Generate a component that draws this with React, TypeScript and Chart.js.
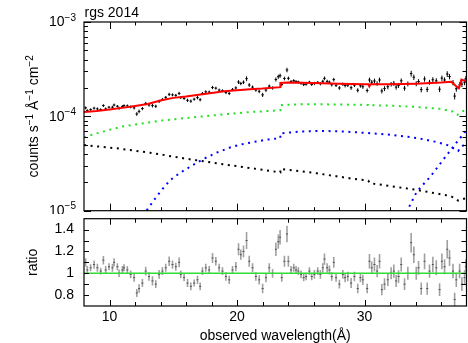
import React, { useEffect, useRef } from 'react';
import { Chart, registerables } from 'chart.js';
Chart.register(...registerables);

const FONT = "'Liberation Sans', Arial, Helvetica, sans-serif";
Chart.defaults.font.family = FONT;
Chart.defaults.color = '#000';

// ---------- data points (observed wavelength, Å) ----------
const wavelength = [
  8.13, 8.26, 8.52, 8.79, 9.05, 9.31, 9.52, 9.70, 9.96, 10.23,
  10.36, 10.62, 10.75, 11.01, 11.14, 11.40, 11.66, 11.93, 12.14, 12.32,
  12.58, 12.84, 13.10, 13.37, 13.63, 13.89, 14.15, 14.41, 14.68, 14.94,
  15.20, 15.46, 15.59, 15.85, 16.12, 16.38, 16.64, 16.90, 17.11, 17.29,
  17.55, 17.82, 18.08, 18.34, 18.60, 18.86, 19.13, 19.39, 19.65, 19.91,
  20.12, 20.30, 20.51, 20.75, 20.96, 21.22, 21.48, 21.74, 22.01, 22.27,
  22.53, 22.79, 23.05, 23.24, 23.38, 23.51, 23.72, 23.92, 24.03, 24.24,
  24.45, 24.63, 24.81, 25.02, 25.23, 25.42, 25.68, 25.86, 26.07, 26.33,
  26.54, 26.73, 26.86, 27.07, 27.25, 27.43, 27.59, 27.77, 28.03, 28.30,
  28.48, 28.69, 28.95, 29.21, 29.47, 29.68, 29.87, 30.21, 30.39, 30.57,
  30.78, 30.99, 31.18, 31.36, 31.57, 31.83, 32.09, 32.30, 32.48, 32.67,
  32.88, 33.14, 33.40, 33.66, 33.87, 34.06, 34.24, 34.45, 34.71, 34.92,
  35.10, 35.36, 35.63, 35.89, 36.07, 36.28, 36.49, 36.67, 36.94, 37.07,
  37.20, 37.46, 37.64, 37.85, 37.95,
];

// counts s^-1 Å^-1 cm^-2
const flux = [
  1.23e-4, 1.15e-4, 1.18e-4, 1.22e-4, 1.20e-4, 1.18e-4, 1.30e-4, 1.20e-4, 1.25e-4, 1.25e-4,
  1.32e-4, 1.28e-4, 1.22e-4, 1.27e-4, 1.30e-4, 1.29e-4, 1.26e-4, 1.23e-4, 1.06e-4, 1.13e-4,
  1.21e-4, 1.37e-4, 1.32e-4, 1.30e-4, 1.28e-4, 1.44e-4, 1.51e-4, 1.59e-4, 1.71e-4, 1.69e-4,
  1.67e-4, 1.75e-4, 1.58e-4, 1.55e-4, 1.48e-4, 1.45e-4, 1.52e-4, 1.58e-4, 1.50e-4, 1.75e-4,
  1.82e-4, 1.81e-4, 2.02e-4, 1.99e-4, 1.90e-4, 1.87e-4, 1.79e-4, 1.75e-4, 1.93e-4, 2.00e-4,
  2.31e-4, 2.23e-4, 2.30e-4, 2.51e-4, 2.15e-4, 2.04e-4, 1.90e-4, 1.84e-4, 1.69e-4, 1.90e-4,
  2.09e-4, 2.00e-4, 2.46e-4, 2.63e-4, 2.70e-4, 2.17e-4, 2.52e-4, 3.10e-4, 2.53e-4, 2.34e-4,
  2.39e-4, 2.34e-4, 2.31e-4, 2.24e-4, 2.17e-4, 2.19e-4, 2.30e-4, 2.18e-4, 2.23e-4, 2.29e-4,
  2.22e-4, 2.35e-4, 2.53e-4, 2.35e-4, 2.30e-4, 2.16e-4, 2.45e-4, 2.13e-4, 2.00e-4, 2.19e-4,
  2.12e-4, 2.14e-4, 2.01e-4, 2.14e-4, 1.89e-4, 2.11e-4, 2.06e-4, 1.88e-4, 2.43e-4, 2.30e-4,
  2.37e-4, 2.23e-4, 2.43e-4, 1.86e-4, 1.97e-4, 2.06e-4, 2.19e-4, 2.24e-4, 2.04e-4, 2.13e-4,
  2.38e-4, 1.99e-4, 2.21e-4, 2.84e-4, 2.60e-4, 2.22e-4, 2.34e-4, 1.92e-4, 2.49e-4, 1.93e-4,
  2.30e-4, 2.44e-4, 2.38e-4, 1.94e-4, 2.54e-4, 2.43e-4, 2.81e-4, 2.64e-4, 2.28e-4, 1.64e-4,
  1.96e-4, 2.16e-4, 2.20e-4, 2.30e-4, 2.51e-4,
];

const ratio = [
  1.10, 1.03, 1.05, 1.08, 1.05, 1.02, 1.12, 1.03, 1.06, 1.05,
  1.10, 1.06, 1.00, 1.03, 1.05, 1.03, 0.99, 0.96, 0.82, 0.86,
  0.91, 1.02, 0.97, 0.93, 0.90, 0.99, 1.02, 1.05, 1.11, 1.08,
  1.06, 1.10, 0.99, 0.96, 0.91, 0.88, 0.91, 0.94, 0.88, 1.02,
  1.05, 1.03, 1.14, 1.11, 1.05, 1.02, 0.97, 0.94, 1.03, 1.06,
  1.22, 1.17, 1.20, 1.30, 1.11, 1.05, 0.97, 0.94, 0.86, 0.96,
  1.05, 1.00, 1.22, 1.29, 1.33, 0.96, 1.11, 1.36, 1.11, 1.03,
  1.05, 1.03, 1.02, 0.99, 0.96, 0.97, 1.02, 0.97, 0.99, 1.02,
  0.99, 1.05, 1.13, 1.05, 1.03, 0.97, 1.10, 0.96, 0.90, 0.99,
  0.96, 0.97, 0.91, 0.97, 0.86, 0.96, 0.94, 0.86, 1.11, 1.05,
  1.08, 1.02, 1.11, 0.85, 0.90, 0.94, 1.00, 1.02, 0.93, 0.97,
  1.08, 0.90, 1.00, 1.28, 1.17, 1.00, 1.05, 0.86, 1.11, 0.86,
  1.02, 1.08, 1.05, 0.85, 1.11, 1.06, 1.22, 1.14, 1.02, 0.76,
  0.94, 1.02, 0.90, 0.96, 1.06,
];

// fractional 1-sigma errors
const relErr = [
  0.035, 0.035, 0.03, 0.035, 0.035, 0.03, 0.035, 0.035, 0.03, 0.035,
  0.035, 0.03, 0.035, 0.035, 0.03, 0.035, 0.035, 0.04, 0.045, 0.045,
  0.04, 0.04, 0.04, 0.045, 0.04, 0.04, 0.035, 0.035, 0.04, 0.035,
  0.035, 0.04, 0.035, 0.035, 0.04, 0.04, 0.035, 0.04, 0.04, 0.035,
  0.035, 0.035, 0.04, 0.035, 0.035, 0.035, 0.04, 0.04, 0.035, 0.04,
  0.045, 0.04, 0.045, 0.06, 0.045, 0.04, 0.04, 0.045, 0.05, 0.045,
  0.04, 0.04, 0.05, 0.05, 0.05, 0.04, 0.045, 0.055, 0.045, 0.035,
  0.035, 0.035, 0.035, 0.035, 0.035, 0.035, 0.035, 0.035, 0.04, 0.035,
  0.04, 0.04, 0.045, 0.04, 0.04, 0.04, 0.045, 0.04, 0.045, 0.04,
  0.045, 0.045, 0.05, 0.045, 0.05, 0.045, 0.05, 0.05, 0.06, 0.055,
  0.06, 0.055, 0.06, 0.06, 0.06, 0.06, 0.055, 0.06, 0.06, 0.06,
  0.06, 0.06, 0.06, 0.07, 0.065, 0.06, 0.06, 0.065, 0.065, 0.065,
  0.06, 0.065, 0.065, 0.07, 0.065, 0.065, 0.07, 0.065, 0.065, 0.08,
  0.07, 0.065, 0.07, 0.07, 0.065,
];
const binHalfWidth = 0.1;

// ---------- model curves ----------
const modelWl = [8.0, 9.0, 10.0, 11.0, 12.0, 13.0, 14.0, 15.0, 16.0, 17.0, 18.0, 19.0, 20.0, 21.0, 22.0, 23.4, 23.4, 24.0, 26.0, 28.0, 30.0, 30.3, 30.38, 30.46, 32.0, 34.0, 36.0, 36.8, 37.2, 37.4, 37.6, 38.0];
const modelFlux = [1.11e-4, 1.14e-4, 1.18e-4, 1.23e-4, 1.29e-4, 1.35e-4, 1.47e-4, 1.57e-4, 1.62e-4, 1.69e-4, 1.77e-4, 1.84e-4, 1.89e-4, 1.94e-4, 1.97e-4, 2.04e-4, 2.26e-4, 2.28e-4, 2.25e-4, 2.22e-4, 2.19e-4, 2.19e-4, 2.08e-4, 2.19e-4, 2.19e-4, 2.22e-4, 2.28e-4, 2.32e-4, 2.08e-4, 1.98e-4, 2.46e-4, 2.35e-4];

const greenWl = [8.0, 9.0, 10.0, 11.0, 12.0, 13.0, 14.0, 15.0, 16.0, 17.0, 18.0, 19.0, 20.0, 21.0, 22.0, 23.4, 23.4, 25.0, 27.0, 29.0, 30.3, 30.4, 30.5, 32.0, 34.0, 36.0, 37.0, 37.3, 37.6, 38.0];
const greenFlux = [6.0e-5, 6.6e-5, 7.2e-5, 7.8e-5, 8.2e-5, 8.6e-5, 9.0e-5, 9.3e-5, 9.6e-5, 9.9e-5, 1.02e-4, 1.05e-4, 1.08e-4, 1.11e-4, 1.13e-4, 1.16e-4, 1.32e-4, 1.34e-4, 1.34e-4, 1.33e-4, 1.32e-4, 1.28e-4, 1.31e-4, 1.30e-4, 1.26e-4, 1.20e-4, 1.12e-4, 1.04e-4, 1.12e-4, 1.17e-4];

const blackWl = [8.0, 10.57, 13.18, 15.8, 18.4, 21.04, 23.4, 23.4, 26.28, 28.9, 30.3, 30.4, 31.5, 34.1, 36.75, 37.35, 37.8, 38.0];
const blackFlux = [4.96e-5, 4.58e-5, 4.12e-5, 3.59e-5, 3.18e-5, 2.83e-5, 2.55e-5, 2.78e-5, 2.49e-5, 2.2e-5, 2.08e-5, 1.96e-5, 1.87e-5, 1.66e-5, 1.43e-5, 1.28e-5, 1.34e-5, 1.36e-5];

const blue1Wl = [12.5, 12.9, 13.5, 14.0, 14.76, 15.5, 16.33, 17.3, 18.4, 19.5, 20.5, 21.8, 22.5, 23.4, 23.4, 25.0, 26.3, 28.0, 29.9, 32.0, 34.1, 35.5, 36.5, 37.1, 37.35, 37.6, 38.0];
const blue1Flux = [7.5e-6, 1.0e-5, 1.3e-5, 1.6e-5, 2.11e-5, 2.5e-5, 2.93e-5, 3.5e-5, 4.12e-5, 4.7e-5, 5.1e-5, 5.5e-5, 5.7e-5, 5.87e-5, 6.6e-5, 6.9e-5, 7.0e-5, 6.95e-5, 6.7e-5, 6.4e-5, 5.9e-5, 5.4e-5, 4.96e-5, 4.5e-5, 4.3e-5, 4.8e-5, 5.1e-5];

const blue2Wl = [33.0, 33.35, 34.1, 35.2, 36.2, 37.0, 37.8, 38.0];
const blue2Flux = [7e-6, 1.0e-5, 1.59e-5, 2.33e-5, 3.51e-5, 4.85e-5, 6.6e-5, 7.2e-5];

// ---------- axes / ticks ----------
const xMin = 8, xMax = 38;
const xMajorTicks = [10, 20, 30];
const xMinorTicks = [12, 14, 16, 18, 22, 24, 26, 28, 32, 34, 36];
const logMajorTicks = [1e-5, 1e-4, 1e-3];
const logTickExponents = ['−5', '−4', '−3'];
const logMinorTicks = [2e-5, 3e-5, 4e-5, 5e-5, 6e-5, 7e-5, 8e-5, 9e-5, 2e-4, 3e-4, 4e-4, 5e-4, 6e-4, 7e-4, 8e-4, 9e-4];
const ratioMin = 0.7, ratioMax = 1.5;
const ratioLabelTicks = [0.8, 1, 1.2, 1.4];
const ratioMinorTicks = [0.9, 1.1, 1.3];

const titleText = 'rgs 2014';
const xTitle = 'observed wavelength(Å)';
const ratioTitle = 'ratio';
const yTitleParts: [string, boolean][] = [['counts s', false], ['−1', true], [' Å', false], ['−1', true], [' cm', false], ['−2', true]];

const pts = (xs: number[], ys: number[]) => xs.map((x, i) => ({ x, y: ys[i] }));

function drawTicks(chart: any, xMaj: number[], xMinr: number[], yMaj: number[], yMinr: number[], L: { xM: number; xm: number; yM: number; ym: number }) {
  const { ctx, chartArea: a, scales } = chart;
  const xs = scales.x, ys = scales.y;
  ctx.save();
  ctx.strokeStyle = '#000';
  ctx.lineWidth = 1;
  ctx.beginPath();
  const xt = (v: number, len: number) => {
    const p = Math.round(xs.getPixelForValue(v)) + 0.5;
    ctx.moveTo(p, a.bottom); ctx.lineTo(p, a.bottom - len);
    ctx.moveTo(p, a.top); ctx.lineTo(p, a.top + len);
  };
  const yt = (v: number, len: number) => {
    const p = Math.round(ys.getPixelForValue(v)) + 0.5;
    ctx.moveTo(a.left, p); ctx.lineTo(a.left + len, p);
    ctx.moveTo(a.right, p); ctx.lineTo(a.right - len, p);
  };
  xMaj.forEach(v => xt(v, L.xM));
  xMinr.forEach(v => xt(v, L.xm));
  yMaj.forEach(v => yt(v, L.yM));
  yMinr.forEach(v => yt(v, L.ym));
  ctx.stroke();
  ctx.lineWidth = 1.2;
  ctx.strokeRect(a.left, a.top, a.right - a.left, a.bottom - a.top);
  ctx.restore();
}

const topDecor = {
  id: 'topDecor',
  beforeDatasetsDraw(chart: any) {
    const { ctx, chartArea: a, scales: { x, y } } = chart;
    ctx.save();
    ctx.beginPath();
    ctx.rect(a.left, a.top, a.right - a.left, a.bottom - a.top);
    ctx.clip();
    ctx.strokeStyle = '#000';
    ctx.lineWidth = 1;
    ctx.beginPath();
    for (let i = 0; i < wavelength.length; i++) {
      const px = x.getPixelForValue(wavelength[i]);
      const py = y.getPixelForValue(flux[i]);
      ctx.moveTo(x.getPixelForValue(wavelength[i] - binHalfWidth), py);
      ctx.lineTo(x.getPixelForValue(wavelength[i] + binHalfWidth), py);
      ctx.moveTo(px, y.getPixelForValue(flux[i] * (1 - relErr[i])));
      ctx.lineTo(px, y.getPixelForValue(flux[i] * (1 + relErr[i])));
    }
    ctx.stroke();
    ctx.restore();
  },
  afterDraw(chart: any) {
    const { ctx, chartArea: a, scales: { y } } = chart;
    drawTicks(chart, xMajorTicks, xMinorTicks, logMajorTicks, logMinorTicks, { xM: 7, xm: 3.5, yM: 7, ym: 4 });
    ctx.save();
    ctx.fillStyle = '#000';
    // log tick labels 10^n
    logMajorTicks.forEach((v, i) => {
      const py = y.getPixelForValue(v);
      ctx.font = `10px ${FONT}`;
      const sw = ctx.measureText(logTickExponents[i]).width;
      const right = a.left - 8;
      ctx.textAlign = 'left';
      ctx.textBaseline = 'middle';
      ctx.fillText(logTickExponents[i], right - sw, py - 4);
      ctx.font = `14px ${FONT}`;
      ctx.textAlign = 'right';
      ctx.fillText('10', right - sw, py + 0.5);
    });
    // title
    ctx.font = `14px ${FONT}`;
    ctx.textAlign = 'left';
    ctx.textBaseline = 'alphabetic';
    ctx.fillText(titleText, a.left + 0.5, 16.7);
    // y title (rotated)
    let w = 0;
    yTitleParts.forEach(([t, sup]) => {
      ctx.font = `${sup ? 10 : 14}px ${FONT}`;
      w += ctx.measureText(t).width;
    });
    ctx.translate(38.3, (a.top + a.bottom) / 2);
    ctx.rotate(-Math.PI / 2);
    let cx = -w / 2;
    yTitleParts.forEach(([t, sup]) => {
      ctx.font = `${sup ? 10 : 14}px ${FONT}`;
      ctx.fillText(t, cx, sup ? -5.5 : 0);
      cx += ctx.measureText(t).width;
    });
    ctx.restore();
  },
};

const bottomDecor = {
  id: 'bottomDecor',
  beforeDatasetsDraw(chart: any) {
    const { ctx, chartArea: a, scales: { x, y } } = chart;
    ctx.save();
    ctx.beginPath();
    ctx.rect(a.left, a.top, a.right - a.left, a.bottom - a.top);
    ctx.clip();
    ctx.strokeStyle = '#a0a0a0';
    ctx.lineWidth = 1.6;
    ctx.beginPath();
    for (let i = 0; i < wavelength.length; i++) {
      const px = x.getPixelForValue(wavelength[i]);
      const e = ratio[i] * relErr[i];
      ctx.moveTo(px, y.getPixelForValue(ratio[i] - e));
      ctx.lineTo(px, y.getPixelForValue(ratio[i] + e));
    }
    ctx.stroke();
    ctx.strokeStyle = '#505050';
    ctx.lineWidth = 1;
    ctx.beginPath();
    for (let i = 0; i < wavelength.length; i++) {
      const py = y.getPixelForValue(ratio[i]);
      ctx.moveTo(x.getPixelForValue(wavelength[i] - 0.08), py);
      ctx.lineTo(x.getPixelForValue(wavelength[i] + 0.08), py);
    }
    ctx.stroke();
    ctx.restore();
  },
  afterDraw(chart: any) {
    drawTicks(chart, xMajorTicks, xMinorTicks, ratioLabelTicks, ratioMinorTicks, { xM: 6, xm: 4, yM: 5, ym: 5 });
  },
};

const dotted = (color: string) => ({ borderColor: color, borderWidth: 2, borderDash: [2, 4.6], pointRadius: 0, fill: false, tension: 0 });

export default function App() {
  const topRef = useRef<HTMLCanvasElement>(null);
  const botRef = useRef<HTMLCanvasElement>(null);

  useEffect(() => {
    const top = new Chart(topRef.current as HTMLCanvasElement, {
      type: 'line',
      data: {
        datasets: [
          { label: 'model', data: pts(modelWl, modelFlux), borderColor: '#ff0000', borderWidth: 2, pointRadius: 0, fill: false, tension: 0 },
          { label: 'comp 1', data: pts(greenWl, greenFlux), ...dotted('#22e022') },
          { label: 'comp 2', data: pts(blackWl, blackFlux), ...dotted('#000000') },
          { label: 'comp 3', data: pts(blue1Wl, blue1Flux), ...dotted('#0000ff') },
          { label: 'comp 4', data: pts(blue2Wl, blue2Flux), ...dotted('#0000ff') },
        ] as any,
      },
      options: {
        animation: false,
        responsive: false,
        devicePixelRatio: 1,
        layout: { padding: { left: 84, right: 1.5, top: 22, bottom: 3.3 } },
        plugins: { legend: { display: false }, tooltip: { enabled: false }, title: { display: false } },
        scales: {
          x: { type: 'linear', min: xMin, max: xMax, display: false },
          y: { type: 'logarithmic', min: 1e-5, max: 1e-3, display: false },
        },
      } as any,
      plugins: [topDecor],
    });

    const bot = new Chart(botRef.current as HTMLCanvasElement, {
      type: 'line',
      data: {
        datasets: [
          { label: 'unity', data: [{ x: xMin, y: 1 }, { x: xMax, y: 1 }], borderColor: '#33dd33', borderWidth: 1.5, pointRadius: 0, fill: false },
        ] as any,
      },
      options: {
        animation: false,
        responsive: false,
        devicePixelRatio: 1,
        layout: { padding: { left: 0, right: 1.5, top: 4.7, bottom: 0 } },
        plugins: { legend: { display: false }, tooltip: { enabled: false } },
        scales: {
          x: {
            type: 'linear', min: xMin, max: xMax,
            afterBuildTicks: (s: any) => { s.ticks = xMajorTicks.map(v => ({ value: v })); },
            grid: { display: false, drawTicks: false },
            border: { display: false },
            ticks: { font: { size: 14, family: FONT }, color: '#000', padding: 3, maxRotation: 0, autoSkip: false },
            title: { display: true, text: xTitle, color: '#000', font: { size: 14, family: FONT, lineHeight: 1 }, padding: { top: 0, bottom: 0 } },
            afterFit: (s: any) => { s.height = 37; s.paddingLeft = 0; s.paddingRight = 0; },
          },
          y: {
            type: 'linear', min: ratioMin, max: ratioMax,
            afterBuildTicks: (s: any) => { s.ticks = ratioLabelTicks.map(v => ({ value: v })); },
            grid: { display: false, drawTicks: false },
            border: { display: false },
            ticks: { font: { size: 14, family: FONT }, color: '#000', padding: 10, autoSkip: false, callback: (v: any) => String(v) },
            title: { display: true, text: ratioTitle, color: '#000', font: { size: 14, family: FONT, lineHeight: 1 }, padding: { top: 26.5, bottom: 0 } },
            afterFit: (s: any) => { s.width = 84; s.paddingTop = 0; s.paddingBottom = 0; },
          },
        },
      } as any,
      plugins: [bottomDecor],
    });

    return () => { top.destroy(); bot.destroy(); };
  }, []);

  return (
    <div style={{ position: 'fixed', left: 0, top: 0, width: 468, height: 343, background: '#fff', overflow: 'hidden' }}>
      <canvas ref={topRef} width={468} height={214} style={{ position: 'absolute', left: 0, top: 0, width: 468, height: 214 }} />
      <canvas ref={botRef} width={468} height={129} style={{ position: 'absolute', left: 0, top: 214, width: 468, height: 129 }} />
    </div>
  );
}
